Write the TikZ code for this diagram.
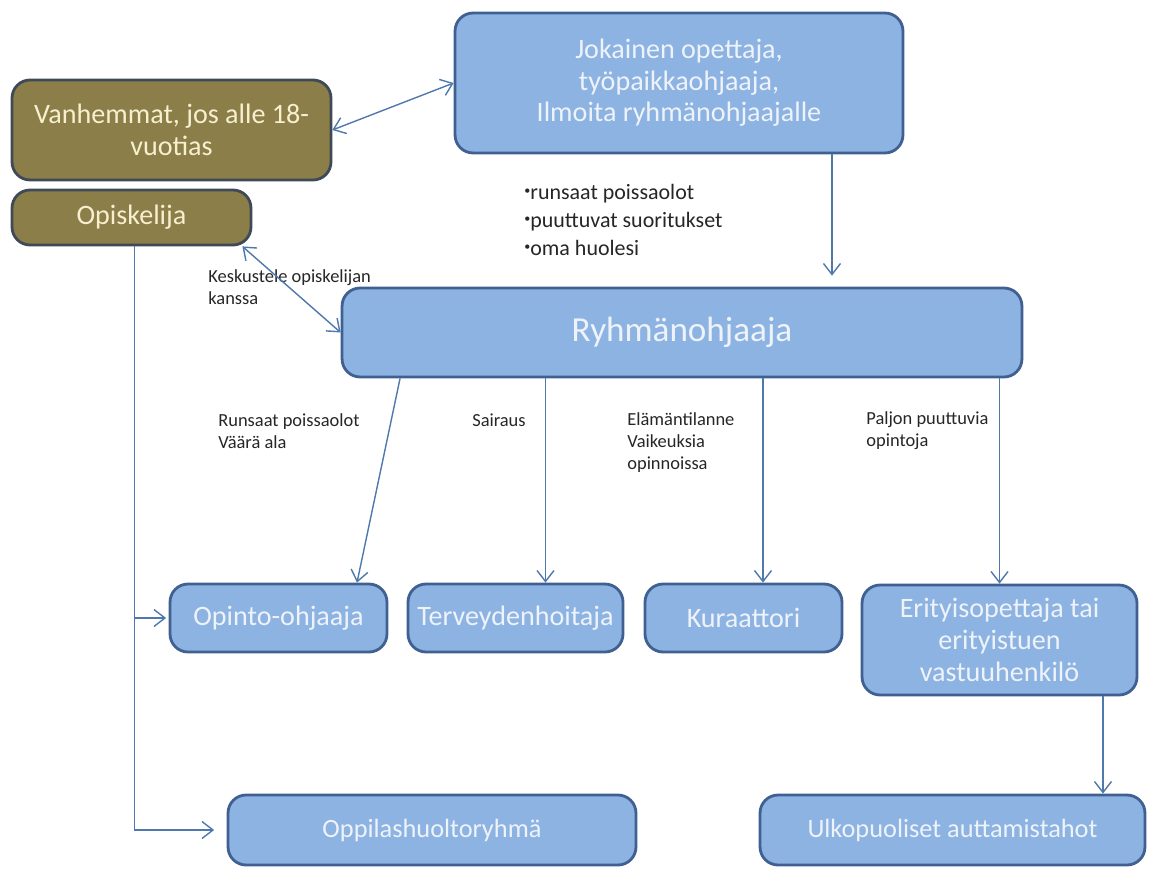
\documentclass[tikz,border=0pt]{standalone}
\usepackage{fontspec}
\setmainfont{Carlito}
\usepackage{tikz}
\usetikzlibrary{arrows.meta}
\definecolor{boxblue}{HTML}{8DB3E2}
\definecolor{boxedge}{HTML}{3F6090}
\definecolor{boxtext}{HTML}{EEF3FA}
\definecolor{olivefill}{HTML}{8C7E48}
\definecolor{oliveedge}{HTML}{3E4A58}
\definecolor{olivetext}{HTML}{F7F0D0}
\definecolor{arrowblue}{HTML}{4F78AC}
\newcommand{\smallbul}{\raisebox{0.22em}{\scalebox{0.55}{•}}}
\tikzstyle{every node}=[font=\fontsize{16}{18}\selectfont]
\tikzset{BoxStyle/.style = {
			shape          = rectangle,
			rounded corners = 3.6mm,
			draw           = boxedge,
			line width     = 1.6pt,
			fill           = boxblue,
			text           = boxtext,
			align          = center,
			inner sep      = 2pt}
			}
\tikzset{OliveStyle/.style = {BoxStyle,
			draw           = oliveedge,
			fill           = olivefill,
			text           = olivetext}
			}
\tikzset{LabelStyle/.style = {
			font           = \fontsize{10.5}{12.5}\selectfont,
			align          = left,
			text           = black!85,
			inner sep      = 0pt}
			}
\tikzset{ArrowStyle/.style = {draw=arrowblue, line width=0.8pt,
			-{Straight Barb[length=2.2mm,width=3.4mm]}},
		BothStyle/.style = {draw=arrowblue, line width=0.8pt,
			{Straight Barb[length=2.2mm,width=3.4mm]}-{Straight Barb[length=2.2mm,width=3.4mm]}}
			}

\begin{document}
\begin{tikzpicture}[x=0.02cm,y=-0.02cm]
					\useasboundingbox (0,0) rectangle (1151,868);

							\draw (679,83) node[BoxStyle, minimum width=8.96cm, minimum height=2.8cm] (Jok) {Jokainen opettaja,\\työpaikkaohjaaja,\\Ilmoita ryhmänohjaajalle};
							\draw (171.5,130) node[OliveStyle, minimum width=6.38cm, minimum height=2cm] (Vanh) {Vanhemmat, jos alle 18-\\vuotias};
							\draw (131.5,217.5) node[OliveStyle, minimum width=4.78cm, minimum height=1.1cm] (Opis) {Opiskelija};
							\draw (682,332.5) node[BoxStyle, minimum width=13.6cm, minimum height=1.78cm, font=\fontsize{20}{24}\selectfont] (Ryhma) {Ryhmänohjaaja};

							\draw (278.5,618) node[BoxStyle, minimum width=4.34cm, minimum height=1.36cm] (Opinto) {Opinto-ohjaaja};
							\draw (515.5,618) node[BoxStyle, minimum width=4.3cm, minimum height=1.36cm] (Terv) {Terveydenhoitaja};
							\draw (743.5,618) node[BoxStyle, minimum width=3.94cm, minimum height=1.36cm] (Kur) {Kuraattori};
							\draw (999.5,640) node[BoxStyle, minimum width=5.5cm, minimum height=2.2cm] (Erit) {Erityisopettaja tai\\erityistuen\\vastuuhenkilö};

							\draw (432,830) node[BoxStyle, minimum width=8.16cm, minimum height=1.4cm, font=\fontsize{15}{17}\selectfont] (Oppi) {Oppilashuoltoryhmä};
							\draw (952.5,830) node[BoxStyle, minimum width=7.7cm, minimum height=1.4cm, font=\fontsize{15}{17}\selectfont] (Ulko) {Ulkopuoliset auttamistahot};

							% labels
							\draw (524,220) node[LabelStyle, anchor=west, font=\fontsize{12.5}{15.9}\selectfont] (Huoli) {\smallbul runsaat poissaolot\\\smallbul puuttuvat suoritukset\\\smallbul oma huolesi};
							\draw (208,287) node[LabelStyle, anchor=west] (Kesk) {Keskustele opiskelijan\\kanssa};
							\draw (218,431) node[LabelStyle, anchor=west] (Runs) {Runsaat poissaolot\\Väärä ala};
							\draw (526,420) node[LabelStyle, anchor=east] (Sair) {Sairaus};
							\draw (627,443) node[LabelStyle, anchor=west] (Elam) {Elämäntilanne\\Vaikeuksia\\opinnoissa};
							\draw (866,431) node[LabelStyle, anchor=west] (Palj) {Paljon puuttuvia\\opintoja};

							\draw[BothStyle]    (Vanh.east) to[] (Jok.west);
							\draw[BothStyle]    (Ryhma.west) to[] ([xshift=-0.2cm]Opis.south east);
							\draw[ArrowStyle, shorten >=0.22cm]    ([xshift=3.06cm]Jok.south) to[] ([xshift=3.06cm]Jok.south |- Ryhma.north);

							\draw[ArrowStyle]    ([xshift=-5.64cm]Ryhma.south) to[] ([xshift=1.57cm]Opinto.north);
							\draw[ArrowStyle]    ([xshift=0.6cm]Terv.north |- Ryhma.south) to[] ([xshift=0.6cm]Terv.north);
							\draw[ArrowStyle]    ([xshift=0.39cm]Kur.north |- Ryhma.south) to[] ([xshift=0.39cm]Kur.north);
							\draw[ArrowStyle]    (Erit.north |- Ryhma.south) to[] (Erit.north);
							\draw[ArrowStyle]    ([xshift=2.07cm]Erit.south) to[] ([xshift=2.07cm]Erit.south |- Ulko.north);

							\draw[ArrowStyle, shorten >=0.25cm]    ([xshift=0.06cm]Opis.south) |- (Oppi.west);
							\draw[ArrowStyle, shorten >=0.05cm]    ([xshift=0.06cm]Opis.south |- Opinto.west) to[] (Opinto.west);

\end{tikzpicture}
\end{document}
